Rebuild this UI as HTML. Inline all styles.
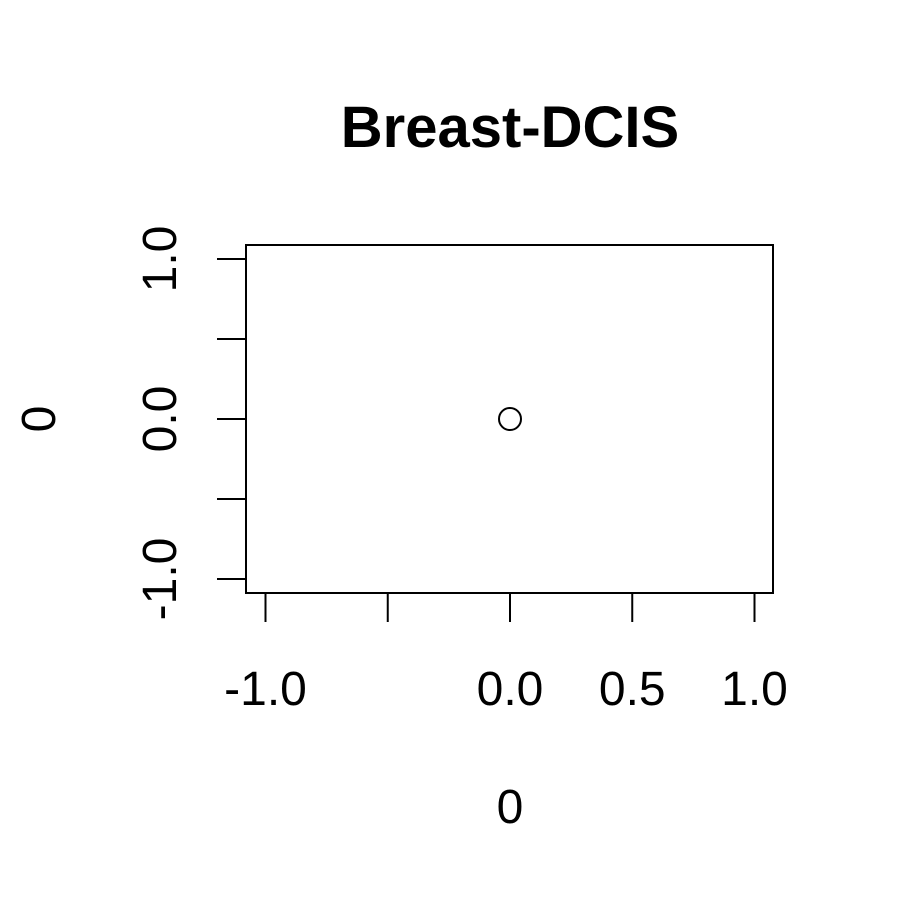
<!DOCTYPE html>
<html><head><meta charset="utf-8"><style>
body{margin:0;background:#fff}
text{font-family:"Liberation Sans",Arial,sans-serif;fill:#000}
</style></head><body>
<svg id="chart" width="900" height="900" viewBox="0 0 900 900" xmlns="http://www.w3.org/2000/svg">
<rect width="900" height="900" fill="#fff"/>
<text x="510" y="147" font-size="58" font-weight="bold" text-anchor="middle">Breast-DCIS</text>
<rect x="246" y="245" width="527" height="348" fill="none" stroke="#000" stroke-width="2"/>
<g id="xaxis"></g>
<g id="yaxis"></g>
<g id="points"></g>
<text x="510" y="823" font-size="48" text-anchor="middle">0</text>
<text transform="translate(55,419) rotate(-90)" font-size="48" text-anchor="middle">0</text>
</svg>
<script>
const xTicks=[-1,-0.5,0,0.5,1];
const xTickLabels=["-1.0","","0.0","0.5","1.0"];
const yTicks=[-1,-0.5,0,0.5,1];
const yTickLabels=["-1.0","","0.0","","1.0"];
const xValues=[0];
const yValues=[0];
const NS="http://www.w3.org/2000/svg";
const sx=v=>510+v*244.5;
const sy=v=>419-v*160;
function mk(tag,attrs,parent){const e=document.createElementNS(NS,tag);for(const k in attrs)e.setAttribute(k,attrs[k]);parent.appendChild(e);return e;}
const xa=document.getElementById('xaxis'),ya=document.getElementById('yaxis'),pts=document.getElementById('points');
mk('line',{x1:sx(xTicks[0]),x2:sx(xTicks[xTicks.length-1]),y1:593,y2:593,stroke:'#000','stroke-width':2},xa);
xTicks.forEach((t,i)=>{
 const l=mk('line',{x1:sx(t),x2:sx(t),y1:593,y2:622,stroke:'#000','stroke-width':2},xa);
 
 
 if(xTickLabels[i]){const tx=mk('text',{x:sx(t),y:705,'font-size':48,'text-anchor':'middle'},xa);tx.textContent=xTickLabels[i];
 
 }
});
mk('line',{x1:246,x2:246,y1:sy(yTicks[0]),y2:sy(yTicks[yTicks.length-1]),stroke:'#000','stroke-width':2},ya);
yTicks.forEach((t,i)=>{
 const l=mk('line',{x1:217,x2:246,y1:sy(t),y2:sy(t),stroke:'#000','stroke-width':2},ya);
 
 
 if(yTickLabels[i]){const tx=mk('text',{transform:`translate(176,${sy(t)}) rotate(-90)`,'font-size':48,'text-anchor':'middle'},ya);tx.textContent=yTickLabels[i];
 
 }
});
xValues.forEach((v,i)=>{
 const c=mk('circle',{cx:sx(v),cy:sy(yValues[i]),r:11,fill:'none',stroke:'#000','stroke-width':2},pts);
 
 
});
</script>
</body></html>
